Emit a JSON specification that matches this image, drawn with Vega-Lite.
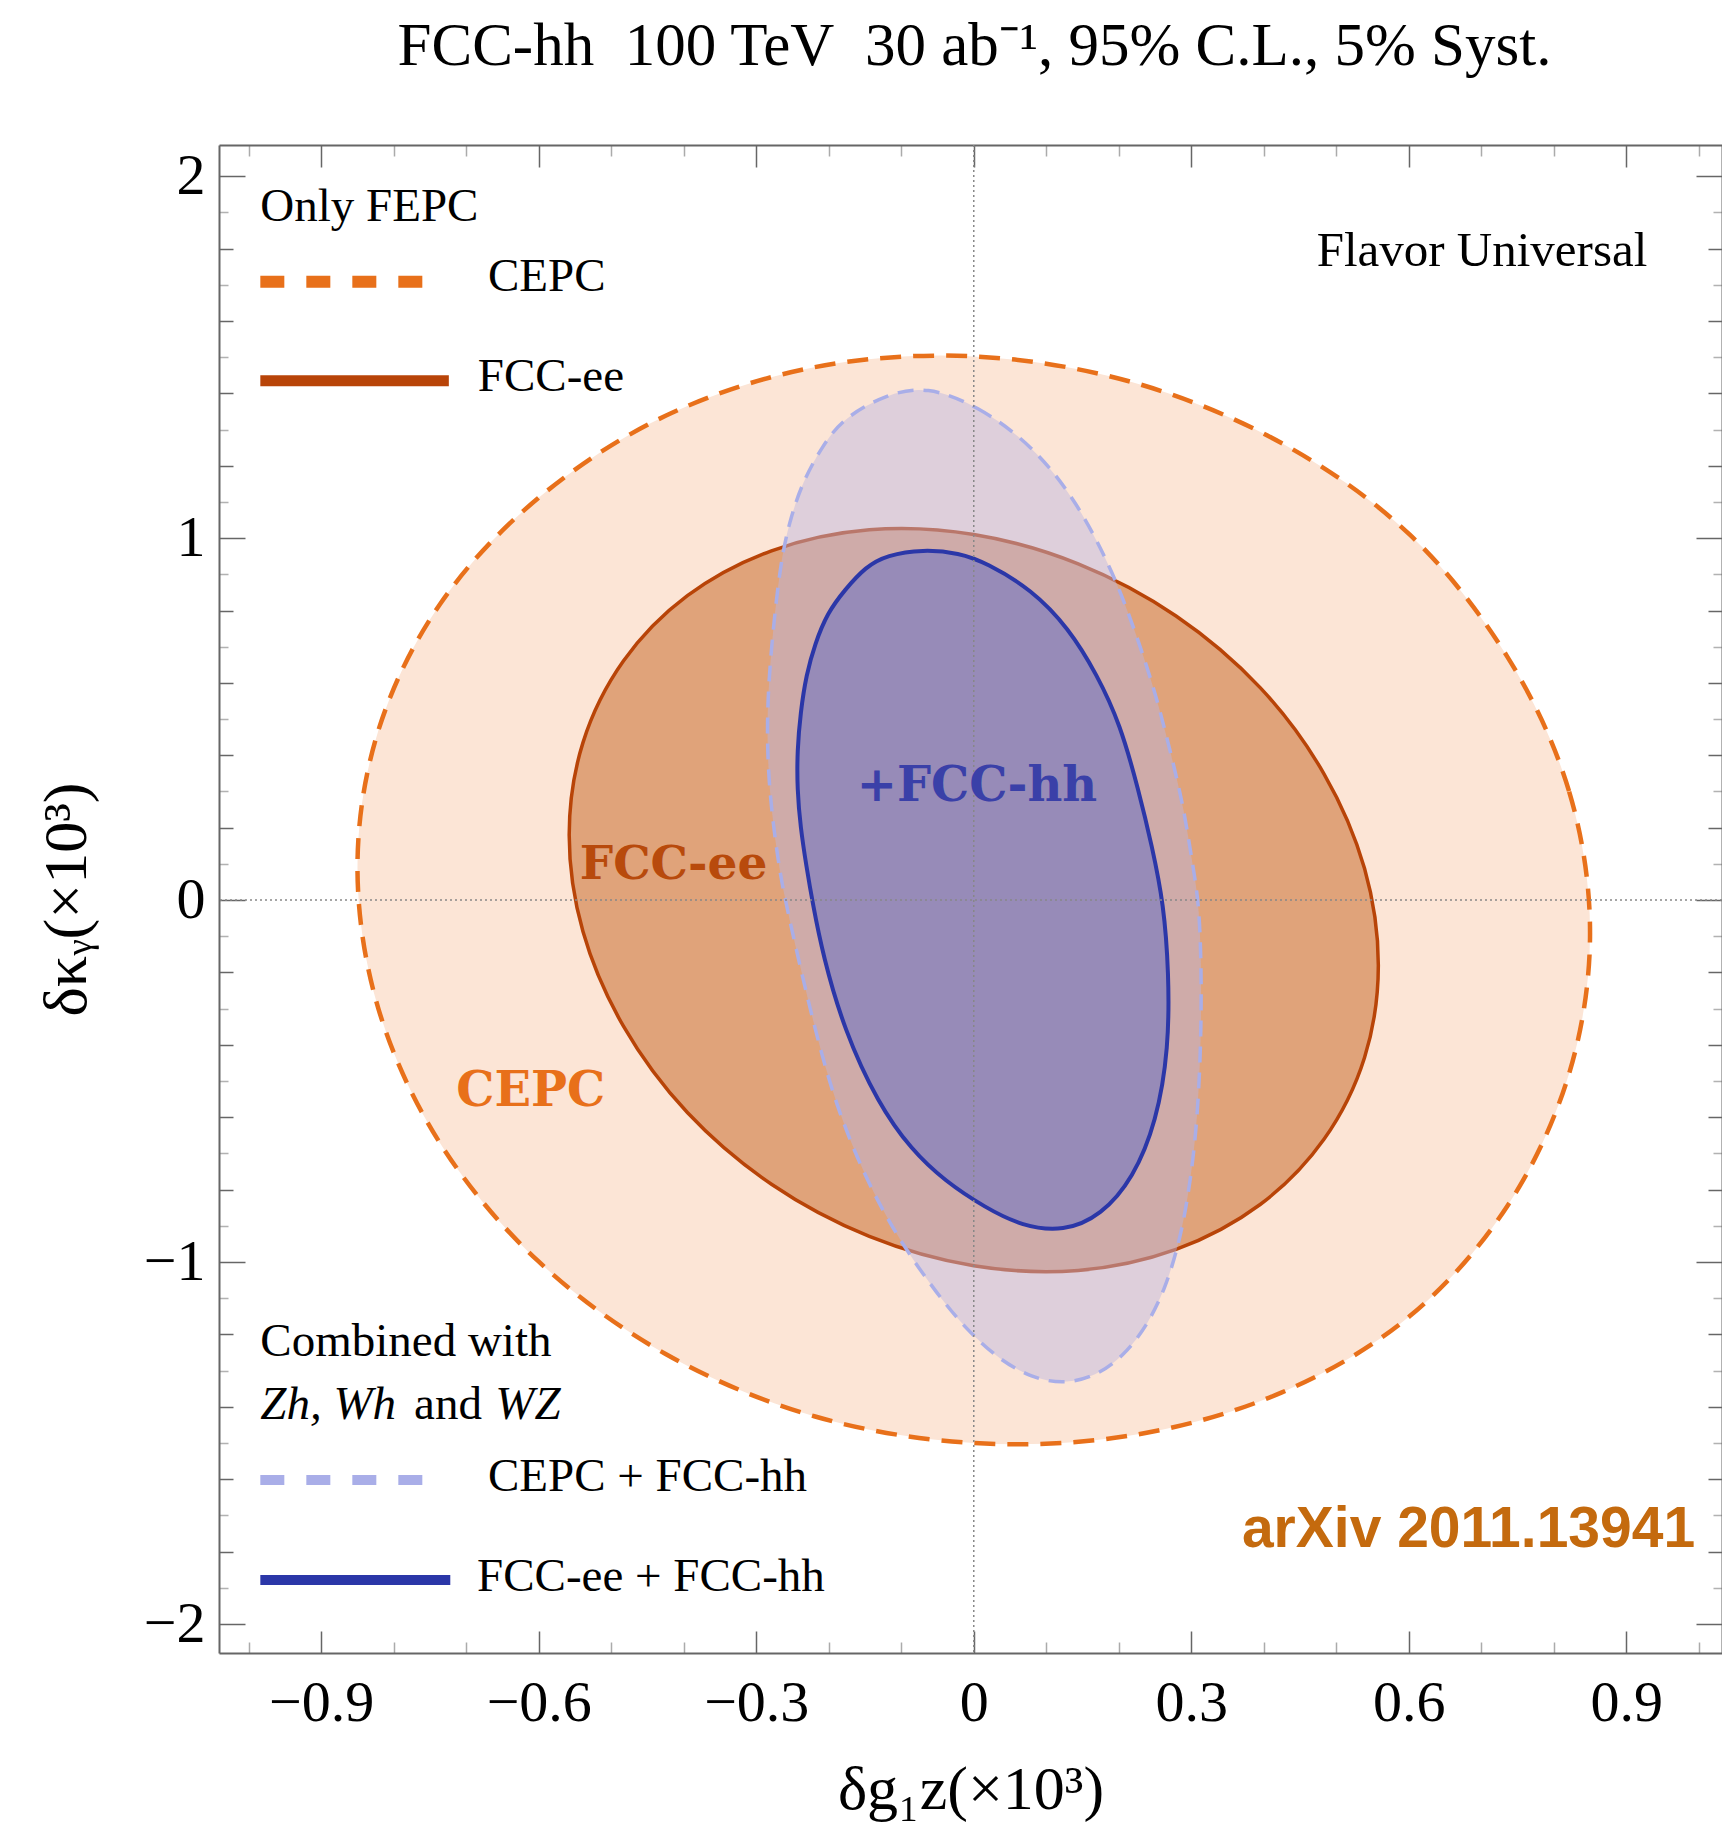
{
  "$schema": "https://vega.github.io/schema/vega-lite/v6.json",
  "width": 1503,
  "height": 1508,
  "autosize": "none",
  "padding": {"left": 219, "top": 145, "right": 0, "bottom": 182},
  "background": "white",
  "config": {"view": {"stroke": null}},
  "title": {"text": "FCC-hh\u2002100 TeV\u200230 ab⁻¹, 95% C.L., 5% Syst.", "font": "Liberation Serif", "fontSize": 61, "fontWeight": "normal", "color": "black", "anchor": "middle", "baseline": "alphabetic", "offset": 18, "dx": 4},
  "datasets": {
    "contours": [
      {"c": "CEPC", "i": 0, "x": 0.850, "y": -0.090},
      {"c": "CEPC", "i": 1, "x": 0.821, "y": 0.301},
      {"c": "CEPC", "i": 2, "x": 0.736, "y": 0.672},
      {"c": "CEPC", "i": 3, "x": 0.601, "y": 1.010},
      {"c": "CEPC", "i": 4, "x": 0.425, "y": 1.262},
      {"c": "CEPC", "i": 5, "x": 0.220, "y": 1.430},
      {"c": "CEPC", "i": 6, "x": 0.000, "y": 1.502},
      {"c": "CEPC", "i": 7, "x": -0.220, "y": 1.472},
      {"c": "CEPC", "i": 8, "x": -0.425, "y": 1.338},
      {"c": "CEPC", "i": 9, "x": -0.601, "y": 1.110},
      {"c": "CEPC", "i": 10, "x": -0.736, "y": 0.818},
      {"c": "CEPC", "i": 11, "x": -0.821, "y": 0.470},
      {"c": "CEPC", "i": 12, "x": -0.850, "y": 0.090},
      {"c": "CEPC", "i": 13, "x": -0.821, "y": -0.301},
      {"c": "CEPC", "i": 14, "x": -0.736, "y": -0.672},
      {"c": "CEPC", "i": 15, "x": -0.601, "y": -0.997},
      {"c": "CEPC", "i": 16, "x": -0.425, "y": -1.254},
      {"c": "CEPC", "i": 17, "x": -0.220, "y": -1.426},
      {"c": "CEPC", "i": 18, "x": 0.000, "y": -1.500},
      {"c": "CEPC", "i": 19, "x": 0.220, "y": -1.478},
      {"c": "CEPC", "i": 20, "x": 0.425, "y": -1.360},
      {"c": "CEPC", "i": 21, "x": 0.601, "y": -1.150},
      {"c": "CEPC", "i": 22, "x": 0.736, "y": -0.845},
      {"c": "CEPC", "i": 23, "x": 0.821, "y": -0.480},

      {"c": "FCCee", "i": 0, "x": 0.558, "y": -0.180},
      {"c": "FCCee", "i": 1, "x": 0.539, "y": 0.087},
      {"c": "FCCee", "i": 2, "x": 0.483, "y": 0.349},
      {"c": "FCCee", "i": 3, "x": 0.395, "y": 0.587},
      {"c": "FCCee", "i": 4, "x": 0.279, "y": 0.785},
      {"c": "FCCee", "i": 5, "x": 0.144, "y": 0.929},
      {"c": "FCCee", "i": 6, "x": 0.000, "y": 1.010},
      {"c": "FCCee", "i": 7, "x": -0.144, "y": 1.023},
      {"c": "FCCee", "i": 8, "x": -0.279, "y": 0.965},
      {"c": "FCCee", "i": 9, "x": -0.395, "y": 0.841},
      {"c": "FCCee", "i": 10, "x": -0.483, "y": 0.661},
      {"c": "FCCee", "i": 11, "x": -0.539, "y": 0.435},
      {"c": "FCCee", "i": 12, "x": -0.558, "y": 0.180},
      {"c": "FCCee", "i": 13, "x": -0.539, "y": -0.087},
      {"c": "FCCee", "i": 14, "x": -0.483, "y": -0.349},
      {"c": "FCCee", "i": 15, "x": -0.395, "y": -0.587},
      {"c": "FCCee", "i": 16, "x": -0.279, "y": -0.785},
      {"c": "FCCee", "i": 17, "x": -0.144, "y": -0.929},
      {"c": "FCCee", "i": 18, "x": 0.000, "y": -1.010},
      {"c": "FCCee", "i": 19, "x": 0.144, "y": -1.023},
      {"c": "FCCee", "i": 20, "x": 0.279, "y": -0.965},
      {"c": "FCCee", "i": 21, "x": 0.395, "y": -0.841},
      {"c": "FCCee", "i": 22, "x": 0.483, "y": -0.661},
      {"c": "FCCee", "i": 23, "x": 0.539, "y": -0.435},

      {"c": "CEPChh", "i": 0, "x": -0.065, "y": 1.420},
      {"c": "CEPChh", "i": 1, "x": 0.004, "y": 1.367},
      {"c": "CEPChh", "i": 2, "x": 0.080, "y": 1.259},
      {"c": "CEPChh", "i": 3, "x": 0.143, "y": 1.100},
      {"c": "CEPChh", "i": 4, "x": 0.194, "y": 0.898},
      {"c": "CEPChh", "i": 5, "x": 0.225, "y": 0.729},
      {"c": "CEPChh", "i": 6, "x": 0.251, "y": 0.570},
      {"c": "CEPChh", "i": 7, "x": 0.271, "y": 0.412},
      {"c": "CEPChh", "i": 8, "x": 0.290, "y": 0.253},
      {"c": "CEPChh", "i": 9, "x": 0.302, "y": 0.094},
      {"c": "CEPChh", "i": 10, "x": 0.312, "y": -0.020},
      {"c": "CEPChh", "i": 11, "x": 0.315, "y": -0.307},
      {"c": "CEPChh", "i": 12, "x": 0.309, "y": -0.613},
      {"c": "CEPChh", "i": 13, "x": 0.296, "y": -0.818},
      {"c": "CEPChh", "i": 14, "x": 0.283, "y": -0.950},
      {"c": "CEPChh", "i": 15, "x": 0.264, "y": -1.074},
      {"c": "CEPChh", "i": 16, "x": 0.239, "y": -1.176},
      {"c": "CEPChh", "i": 17, "x": 0.207, "y": -1.259},
      {"c": "CEPChh", "i": 18, "x": 0.168, "y": -1.316},
      {"c": "CEPChh", "i": 19, "x": 0.124, "y": -1.337},
      {"c": "CEPChh", "i": 20, "x": 0.080, "y": -1.320},
      {"c": "CEPChh", "i": 21, "x": 0.034, "y": -1.268},
      {"c": "CEPChh", "i": 22, "x": -0.010, "y": -1.186},
      {"c": "CEPChh", "i": 23, "x": -0.048, "y": -1.095},
      {"c": "CEPChh", "i": 24, "x": -0.103, "y": -0.940},
      {"c": "CEPChh", "i": 25, "x": -0.150, "y": -0.767},
      {"c": "CEPChh", "i": 26, "x": -0.191, "y": -0.562},
      {"c": "CEPChh", "i": 27, "x": -0.219, "y": -0.358},
      {"c": "CEPChh", "i": 28, "x": -0.243, "y": -0.153},
      {"c": "CEPChh", "i": 29, "x": -0.260, "y": 0.000},
      {"c": "CEPChh", "i": 30, "x": -0.269, "y": 0.094},
      {"c": "CEPChh", "i": 31, "x": -0.283, "y": 0.306},
      {"c": "CEPChh", "i": 32, "x": -0.286, "y": 0.517},
      {"c": "CEPChh", "i": 33, "x": -0.278, "y": 0.729},
      {"c": "CEPChh", "i": 34, "x": -0.266, "y": 0.940},
      {"c": "CEPChh", "i": 35, "x": -0.254, "y": 1.046},
      {"c": "CEPChh", "i": 36, "x": -0.237, "y": 1.152},
      {"c": "CEPChh", "i": 37, "x": -0.208, "y": 1.258},
      {"c": "CEPChh", "i": 38, "x": -0.179, "y": 1.333},
      {"c": "CEPChh", "i": 39, "x": -0.120, "y": 1.398},

      {"c": "FCCeehh", "i": 0, "x": -0.070, "y": 0.969},
      {"c": "FCCeehh", "i": 1, "x": -0.020, "y": 0.959},
      {"c": "FCCeehh", "i": 2, "x": 0.017, "y": 0.932},
      {"c": "FCCeehh", "i": 3, "x": 0.080, "y": 0.858},
      {"c": "FCCeehh", "i": 4, "x": 0.131, "y": 0.751},
      {"c": "FCCeehh", "i": 5, "x": 0.170, "y": 0.623},
      {"c": "FCCeehh", "i": 6, "x": 0.202, "y": 0.486},
      {"c": "FCCeehh", "i": 7, "x": 0.227, "y": 0.306},
      {"c": "FCCeehh", "i": 8, "x": 0.246, "y": 0.148},
      {"c": "FCCeehh", "i": 9, "x": 0.262, "y": -0.011},
      {"c": "FCCeehh", "i": 10, "x": 0.269, "y": -0.200},
      {"c": "FCCeehh", "i": 11, "x": 0.269, "y": -0.409},
      {"c": "FCCeehh", "i": 12, "x": 0.252, "y": -0.613},
      {"c": "FCCeehh", "i": 13, "x": 0.220, "y": -0.768},
      {"c": "FCCeehh", "i": 14, "x": 0.176, "y": -0.871},
      {"c": "FCCeehh", "i": 15, "x": 0.124, "y": -0.916},
      {"c": "FCCeehh", "i": 16, "x": 0.067, "y": -0.901},
      {"c": "FCCeehh", "i": 17, "x": 0.016, "y": -0.850},
      {"c": "FCCeehh", "i": 18, "x": -0.040, "y": -0.776},
      {"c": "FCCeehh", "i": 19, "x": -0.086, "y": -0.690},
      {"c": "FCCeehh", "i": 20, "x": -0.132, "y": -0.562},
      {"c": "FCCeehh", "i": 21, "x": -0.179, "y": -0.358},
      {"c": "FCCeehh", "i": 22, "x": -0.208, "y": -0.153},
      {"c": "FCCeehh", "i": 23, "x": -0.222, "y": -0.011},
      {"c": "FCCeehh", "i": 24, "x": -0.231, "y": 0.095},
      {"c": "FCCeehh", "i": 25, "x": -0.239, "y": 0.201},
      {"c": "FCCeehh", "i": 26, "x": -0.2435, "y": 0.306},
      {"c": "FCCeehh", "i": 27, "x": -0.2435, "y": 0.412},
      {"c": "FCCeehh", "i": 28, "x": -0.239, "y": 0.518},
      {"c": "FCCeehh", "i": 29, "x": -0.231, "y": 0.623},
      {"c": "FCCeehh", "i": 30, "x": -0.219, "y": 0.708},
      {"c": "FCCeehh", "i": 31, "x": -0.202, "y": 0.793},
      {"c": "FCCeehh", "i": 32, "x": -0.178, "y": 0.857},
      {"c": "FCCeehh", "i": 33, "x": -0.149, "y": 0.921},
      {"c": "FCCeehh", "i": 34, "x": -0.120, "y": 0.953}
    ],
    "legendLines": [
      {"k": "CEPC", "x": -0.984, "y": 1.708},
      {"k": "CEPC", "x": -0.760, "y": 1.708},
      {"k": "FCCee", "x": -0.984, "y": 1.435},
      {"k": "FCCee", "x": -0.724, "y": 1.435},
      {"k": "CEPChh", "x": -0.984, "y": -1.602},
      {"k": "CEPChh", "x": -0.760, "y": -1.602},
      {"k": "FCCeehh", "x": -0.984, "y": -1.878},
      {"k": "FCCeehh", "x": -0.722, "y": -1.878}
    ],
    "texts": [
      {"g": "legend", "t": "Only FEPC", "x": -0.984, "y": 1.915},
      {"g": "legend", "t": "CEPC", "x": -0.670, "y": 1.720},
      {"g": "legend", "t": "FCC-ee", "x": -0.684, "y": 1.445},
      {"g": "legend", "t": "Combined with", "x": -0.984, "y": -1.222},
      {"g": "italic", "t": "Zh, Wh", "x": -0.984, "y": -1.395},
      {"g": "legend", "t": "and", "x": -0.772, "y": -1.395},
      {"g": "italic", "t": "WZ", "x": -0.660, "y": -1.395},
      {"g": "legend", "t": "CEPC + FCC-hh", "x": -0.670, "y": -1.595},
      {"g": "legend", "t": "FCC-ee + FCC-hh", "x": -0.685, "y": -1.870},
      {"g": "note", "t": "Flavor Universal", "x": 0.929, "y": 1.793},
      {"g": "arxiv", "t": "arXiv 2011.13941", "x": 0.995, "y": -1.739},
      {"g": "hh", "t": "+FCC-hh", "x": 0.0045, "y": 0.312},
      {"g": "ee", "t": "FCC-ee", "x": -0.414, "y": 0.098},
      {"g": "cepc", "t": "CEPC", "x": -0.611, "y": -0.529}
    ],
    "zero": [{"v": 0}]
  },
  "resolve": {"axis": {"x": "independent", "y": "independent"}},
  "layer": [
    {
      "data": {"name": "contours"},
      "transform": [{"filter": "datum.c === 'CEPC'"}],
      "mark": {"type": "line", "interpolate": "cardinal-closed", "fill": "#FCE5D6", "stroke": "#E8701A", "strokeWidth": 4.5, "strokeDash": [21, 12]},
      "encoding": {
        "x": {"field": "x", "type": "quantitative", "scale": {"domain": [-1.041, 1.032], "nice": false, "zero": false},
          "axis": {"orient": "bottom", "values": [-1.0, -0.9, -0.8, -0.7, -0.6, -0.5, -0.4, -0.3, -0.2, -0.1, 0, 0.1, 0.2, 0.3, 0.4, 0.5, 0.6, 0.7, 0.8, 0.9, 1.0],
            "format": ".1~f",
            "labelExpr": "abs(datum.value/0.3 - round(datum.value/0.3)) < 0.001 ? datum.label : ''",
            "tickSize": {"expr": "abs(datum.value/0.3 - round(datum.value/0.3)) < 0.001 ? -22 : -11"},
            "tickOpacity": {"expr": "abs(datum.value/0.3 - round(datum.value/0.3)) < 0.001 ? 1 : 0.55"},
            "labelPadding": 43, "labelFont": "Liberation Serif", "labelFontSize": 58, "labelColor": "black",
            "labelOverlap": false, "labelFlush": false, "labelBound": false,
            "title": "δg₁z(×10³)", "titleFont": "Liberation Serif", "titleFontSize": 62, "titleFontWeight": "normal", "titleColor": "black", "titlePadding": 16,
            "domainColor": "#666", "domainWidth": 2, "tickColor": "#666", "tickWidth": 1.5, "grid": false}},
        "y": {"field": "y", "type": "quantitative", "scale": {"domain": [-2.08, 2.086], "nice": false, "zero": false},
          "axis": {"orient": "left", "values": [-2.0, -1.9, -1.8, -1.7, -1.6, -1.5, -1.4, -1.3, -1.2, -1.1, -1.0, -0.9, -0.8, -0.7, -0.6, -0.5, -0.4, -0.3, -0.2, -0.1, 0, 0.1, 0.2, 0.3, 0.4, 0.5, 0.6, 0.7, 0.8, 0.9, 1.0, 1.1, 1.2, 1.3, 1.4, 1.5, 1.6, 1.7, 1.8, 1.9, 2.0],
            "format": ".0f",
            "labelExpr": "abs(datum.value - round(datum.value)) < 0.001 ? datum.label : ''",
            "tickSize": {"expr": "abs(datum.value - round(datum.value)) < 0.001 ? -26 : (abs(datum.value*5 - round(datum.value*5)) < 0.001 ? -14 : -9)"},
            "tickOpacity": {"expr": "abs(datum.value*5 - round(datum.value*5)) < 0.001 ? 1 : 0.5"},
            "labelPadding": 40, "labelFont": "Liberation Serif", "labelFontSize": 58, "labelColor": "black",
            "labelOverlap": false, "labelFlush": false, "labelBound": false,
            "title": "δκᵧ(×10³)", "titleFont": "Liberation Serif", "titleFontSize": 62, "titleFontWeight": "normal", "titleColor": "black", "titlePadding": 45,
            "domainColor": "#666", "domainWidth": 2, "tickColor": "#666", "tickWidth": 1.5, "grid": false}},
        "order": {"field": "i", "type": "quantitative"}
      }
    },
    {
      "data": {"name": "contours"},
      "transform": [{"filter": "datum.c === 'FCCee'"}],
      "mark": {"type": "line", "interpolate": "cardinal-closed", "fill": "#E0A37A", "stroke": "#B84408", "strokeWidth": 3.5},
      "encoding": {
        "x": {"field": "x", "type": "quantitative", "scale": {"domain": [-1.041, 1.032], "nice": false, "zero": false},
          "axis": {"orient": "top", "values": [-1.0, -0.9, -0.8, -0.7, -0.6, -0.5, -0.4, -0.3, -0.2, -0.1, 0, 0.1, 0.2, 0.3, 0.4, 0.5, 0.6, 0.7, 0.8, 0.9, 1.0],
            "labels": false, "title": null,
            "tickSize": {"expr": "abs(datum.value/0.3 - round(datum.value/0.3)) < 0.001 ? -22 : -11"},
            "tickOpacity": {"expr": "abs(datum.value/0.3 - round(datum.value/0.3)) < 0.001 ? 1 : 0.55"},
            "domainColor": "#666", "domainWidth": 2, "tickColor": "#666", "tickWidth": 1.5, "grid": false}},
        "y": {"field": "y", "type": "quantitative", "scale": {"domain": [-2.08, 2.086], "nice": false, "zero": false},
          "axis": {"orient": "right", "values": [-2.0, -1.9, -1.8, -1.7, -1.6, -1.5, -1.4, -1.3, -1.2, -1.1, -1.0, -0.9, -0.8, -0.7, -0.6, -0.5, -0.4, -0.3, -0.2, -0.1, 0, 0.1, 0.2, 0.3, 0.4, 0.5, 0.6, 0.7, 0.8, 0.9, 1.0, 1.1, 1.2, 1.3, 1.4, 1.5, 1.6, 1.7, 1.8, 1.9, 2.0],
            "labels": false, "title": null,
            "tickSize": {"expr": "abs(datum.value - round(datum.value)) < 0.001 ? -26 : (abs(datum.value*5 - round(datum.value*5)) < 0.001 ? -14 : -9)"},
            "tickOpacity": {"expr": "abs(datum.value*5 - round(datum.value*5)) < 0.001 ? 1 : 0.5"},
            "domainColor": "#666", "domainWidth": 2, "tickColor": "#666", "tickWidth": 1.5, "grid": false}},
        "order": {"field": "i", "type": "quantitative"}
      }
    },
    {
      "data": {"name": "contours"},
      "transform": [{"filter": "datum.c === 'CEPChh'"}],
      "mark": {"type": "line", "interpolate": "basis-closed", "fill": "#BBB5E1", "fillOpacity": 0.46, "stroke": "#A9AEE8", "strokeWidth": 3.5, "strokeDash": [16, 10]},
      "encoding": {
        "x": {"field": "x", "type": "quantitative", "axis": null},
        "y": {"field": "y", "type": "quantitative", "axis": null},
        "order": {"field": "i", "type": "quantitative"}
      }
    },
    {
      "data": {"name": "contours"},
      "transform": [{"filter": "datum.c === 'FCCeehh'"}],
      "mark": {"type": "line", "interpolate": "basis-closed", "fill": "#978BB8", "stroke": "#2B37A8", "strokeWidth": 4},
      "encoding": {
        "x": {"field": "x", "type": "quantitative", "axis": null},
        "y": {"field": "y", "type": "quantitative", "axis": null},
        "order": {"field": "i", "type": "quantitative"}
      }
    },
    {
      "data": {"name": "zero"},
      "mark": {"type": "rule", "color": "#888", "strokeWidth": 1.5, "strokeDash": [2, 3]},
      "encoding": {"x": {"field": "v", "type": "quantitative", "axis": null}}
    },
    {
      "data": {"name": "zero"},
      "mark": {"type": "rule", "color": "#888", "strokeWidth": 1.5, "strokeDash": [2, 3]},
      "encoding": {"y": {"field": "v", "type": "quantitative", "axis": null}}
    },
    {
      "data": {"name": "legendLines"},
      "transform": [{"filter": "datum.k === 'CEPC'"}],
      "mark": {"type": "line", "stroke": "#E8701A", "strokeWidth": 12, "strokeDash": [24, 22], "strokeCap": "butt"},
      "encoding": {"x": {"field": "x", "type": "quantitative", "axis": null}, "y": {"field": "y", "type": "quantitative", "axis": null}}
    },
    {
      "data": {"name": "legendLines"},
      "transform": [{"filter": "datum.k === 'FCCee'"}],
      "mark": {"type": "line", "stroke": "#B84408", "strokeWidth": 11, "strokeCap": "butt"},
      "encoding": {"x": {"field": "x", "type": "quantitative", "axis": null}, "y": {"field": "y", "type": "quantitative", "axis": null}}
    },
    {
      "data": {"name": "legendLines"},
      "transform": [{"filter": "datum.k === 'CEPChh'"}],
      "mark": {"type": "line", "stroke": "#A9AEE8", "strokeWidth": 10, "strokeDash": [24, 22], "strokeCap": "butt"},
      "encoding": {"x": {"field": "x", "type": "quantitative", "axis": null}, "y": {"field": "y", "type": "quantitative", "axis": null}}
    },
    {
      "data": {"name": "legendLines"},
      "transform": [{"filter": "datum.k === 'FCCeehh'"}],
      "mark": {"type": "line", "stroke": "#2B37A8", "strokeWidth": 10, "strokeCap": "butt"},
      "encoding": {"x": {"field": "x", "type": "quantitative", "axis": null}, "y": {"field": "y", "type": "quantitative", "axis": null}}
    },
    {
      "data": {"name": "texts"},
      "transform": [{"filter": "datum.g === 'legend'"}],
      "mark": {"type": "text", "font": "Liberation Serif", "fontSize": 47, "color": "black", "align": "left", "baseline": "middle"},
      "encoding": {"x": {"field": "x", "type": "quantitative", "axis": null}, "y": {"field": "y", "type": "quantitative", "axis": null}, "text": {"field": "t"}}
    },
    {
      "data": {"name": "texts"},
      "transform": [{"filter": "datum.g === 'italic'"}],
      "mark": {"type": "text", "font": "Liberation Serif", "fontStyle": "italic", "fontSize": 47, "color": "black", "align": "left", "baseline": "middle"},
      "encoding": {"x": {"field": "x", "type": "quantitative", "axis": null}, "y": {"field": "y", "type": "quantitative", "axis": null}, "text": {"field": "t"}}
    },
    {
      "data": {"name": "texts"},
      "transform": [{"filter": "datum.g === 'note'"}],
      "mark": {"type": "text", "font": "Liberation Serif", "fontSize": 49, "color": "black", "align": "right", "baseline": "middle"},
      "encoding": {"x": {"field": "x", "type": "quantitative", "axis": null}, "y": {"field": "y", "type": "quantitative", "axis": null}, "text": {"field": "t"}}
    },
    {
      "data": {"name": "texts"},
      "transform": [{"filter": "datum.g === 'arxiv'"}],
      "mark": {"type": "text", "font": "Liberation Sans", "fontWeight": "bold", "fontSize": 57, "color": "#C46A0E", "align": "right", "baseline": "middle"},
      "encoding": {"x": {"field": "x", "type": "quantitative", "axis": null}, "y": {"field": "y", "type": "quantitative", "axis": null}, "text": {"field": "t"}}
    },
    {
      "data": {"name": "texts"},
      "transform": [{"filter": "datum.g === 'hh'"}],
      "mark": {"type": "text", "font": "DejaVu Serif", "fontWeight": "bold", "fontSize": 48, "color": "#3A40A8", "align": "center", "baseline": "middle"},
      "encoding": {"x": {"field": "x", "type": "quantitative", "axis": null}, "y": {"field": "y", "type": "quantitative", "axis": null}, "text": {"field": "t"}}
    },
    {
      "data": {"name": "texts"},
      "transform": [{"filter": "datum.g === 'ee'"}],
      "mark": {"type": "text", "font": "DejaVu Serif", "fontWeight": "bold", "fontSize": 47, "color": "#B84A0C", "align": "center", "baseline": "middle"},
      "encoding": {"x": {"field": "x", "type": "quantitative", "axis": null}, "y": {"field": "y", "type": "quantitative", "axis": null}, "text": {"field": "t"}}
    },
    {
      "data": {"name": "texts"},
      "transform": [{"filter": "datum.g === 'cepc'"}],
      "mark": {"type": "text", "font": "DejaVu Serif", "fontWeight": "bold", "fontSize": 48, "color": "#E8701A", "align": "center", "baseline": "middle"},
      "encoding": {"x": {"field": "x", "type": "quantitative", "axis": null}, "y": {"field": "y", "type": "quantitative", "axis": null}, "text": {"field": "t"}}
    }
  ]
}
